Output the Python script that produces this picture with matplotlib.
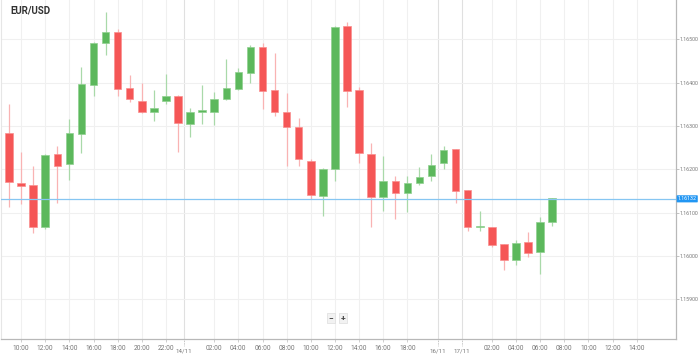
import numpy as np
import matplotlib
matplotlib.use("Agg")
import matplotlib.pyplot as plt
import matplotlib.transforms as mtransforms

plt.rcParams["font.family"] = ["Roboto", "DejaVu Sans"]

# Hourly EUR/USD candles
opens = [1.16283, 1.16169, 1.16164, 1.16068, 1.16235, 1.16212, 1.16282, 1.16394,
         1.16492, 1.16516, 1.16387, 1.16358, 1.16333, 1.16358, 1.16370, 1.16305,
         1.16332, 1.16333, 1.16362, 1.16385, 1.16422, 1.16482, 1.16383, 1.16332,
         1.16298, 1.16219, 1.16139, 1.16200, 1.16531, 1.16383, 1.16235, 1.16136,
         1.16174, 1.16146, 1.16168, 1.16185, 1.16215, 1.16247, 1.16152, 1.16067,
         1.16066, 1.16027, 1.15991, 1.16032, 1.16009, 1.16079]
closes = [1.16170, 1.16162, 1.16068, 1.16233, 1.16208, 1.16283, 1.16396, 1.16492,
          1.16516, 1.16386, 1.16362, 1.16333, 1.16341, 1.16370, 1.16306, 1.16333,
          1.16337, 1.16362, 1.16387, 1.16424, 1.16483, 1.16381, 1.16332, 1.16298,
          1.16225, 1.16141, 1.16200, 1.16529, 1.16381, 1.16237, 1.16136, 1.16172,
          1.16145, 1.16169, 1.16183, 1.16210, 1.16245, 1.16151, 1.16068, 1.16069,
          1.16026, 1.15991, 1.16031, 1.16008, 1.16079, 1.16133]
highs = [1.16351, 1.16239, 1.16208, 1.16235, 1.16255, 1.16316, 1.16435, 1.16493,
         1.16563, 1.16523, 1.16418, 1.16399, 1.16383, 1.16420, 1.16371, 1.16342,
         1.16395, 1.16379, 1.16454, 1.16434, 1.16488, 1.16491, 1.16469, 1.16375,
         1.16318, 1.16223, 1.16202, 1.16530, 1.16541, 1.16389, 1.16260, 1.16231,
         1.16185, 1.16185, 1.16205, 1.16235, 1.16254, 1.16248, 1.16153, 1.16105,
         1.16067, 1.16028, 1.16038, 1.16056, 1.16090, 1.16135]
lows = [1.16112, 1.16119, 1.16052, 1.16062, 1.16123, 1.16175, 1.16237, 1.16370,
        1.16464, 1.16370, 1.16356, 1.16331, 1.16312, 1.16351, 1.16239, 1.16275,
        1.16305, 1.16302, 1.16361, 1.16384, 1.16399, 1.16339, 1.16323, 1.16208,
        1.16208, 1.16132, 1.16093, 1.16173, 1.16343, 1.16214, 1.16068, 1.16105,
        1.16085, 1.16102, 1.16164, 1.16173, 1.16200, 1.16122, 1.16058, 1.16058,
        1.16020, 1.15968, 1.15980, 1.15997, 1.15958, 1.16070]
current_price = 1.16132

# x axis labels (candle slot -> label)
time_slots = [1, 3, 5, 7, 9, 11, 13, 17, 19, 21, 23, 25, 27, 29, 31, 33,
              40, 42, 44, 46, 48, 50, 52]
time_labels = ["10:00", "12:00", "14:00", "16:00", "18:00", "20:00", "22:00",
               "02:00", "04:00", "06:00", "08:00", "10:00", "12:00", "14:00",
               "16:00", "18:00", "02:00", "04:00", "06:00", "08:00", "10:00",
               "12:00", "14:00"]
date_slots = [14.5, 35.5, 37.5]
date_labels = ["14/11", "16/11", "17/11"]
price_ticks = [1.159, 1.160, 1.161, 1.162, 1.163, 1.164, 1.165]

green = "#5cb85c"
red = "#f55656"
green_wick = "#a9d9a9"
red_wick = "#f9b3b3"

fig = plt.figure(figsize=(6.99, 3.57), dpi=100)
ax = fig.add_axes([1 / 699, 18 / 357, 674.7 / 699, 339 / 357])

x = np.arange(len(opens))
o = np.array(opens)
c = np.array(closes)
up = c >= o
body_lo = np.minimum(o, c)
body_h = np.maximum(np.abs(c - o), 0.000015)

ax.vlines(x[up], np.array(lows)[up], np.array(highs)[up], color=green_wick, lw=0.9, zorder=2)
ax.vlines(x[~up], np.array(lows)[~up], np.array(highs)[~up], color=red_wick, lw=0.9, zorder=2)
ax.bar(x[up], body_h[up], bottom=body_lo[up], width=0.62, color=green,
       edgecolor="#8fd08f", linewidth=0.5, zorder=3)
ax.bar(x[~up], body_h[~up], bottom=body_lo[~up], width=0.62, color=red,
       edgecolor="#f98f8f", linewidth=0.5, zorder=3)

ax.set_xlim(-0.663, 55.23)
ax.set_ylim(1.158086, 1.165907)

# grid
for s in time_slots:
    ax.axvline(s, color="#f0f0f0", lw=0.8, zorder=0)
for s in date_slots:
    ax.axvline(s, color="#e0e0e0", lw=0.8, zorder=0)
for p in price_ticks:
    ax.axhline(p, color="#f0f0f0", lw=0.8, zorder=0)

# current price line
ax.axhline(current_price, color="#86c6f2", lw=0.9, zorder=4)

ax.spines["top"].set_visible(False)
ax.spines["left"].set_color("#e6e6e6")
ax.spines["left"].set_linewidth(0.8)
ax.spines["bottom"].set_color("#b8b8b8")
ax.spines["right"].set_color("#b8b8b8")
ax.spines["bottom"].set_linewidth(0.9)
ax.spines["right"].set_linewidth(0.9)

ax.yaxis.tick_right()
ax.set_yticks(price_ticks)
ax.set_yticklabels([f"{p:.5f}" for p in price_ticks])
ax.tick_params(axis="y", length=2, width=0.6, color="#b8b8b8", pad=1,
               labelsize=3.8, labelcolor="#777777")
ax.set_xticks(time_slots)
ax.set_xticklabels(time_labels)
ax.tick_params(axis="x", length=2.5, width=0.6, color="#c8c8c8", pad=1.5,
               labelsize=4.8, labelcolor="#777777")

# date separators below axis
trans = mtransforms.blended_transform_factory(ax.transData, ax.transAxes)
for s, lab in zip(date_slots, date_labels):
    ax.plot([s, s], [0, -0.02], transform=trans, color="#b0b0b0", lw=0.6,
            ls=(0, (1, 1)), clip_on=False)
    ax.text(s, -0.034, lab, transform=trans, ha="center", va="center",
            fontsize=4.5, color="#777777")

# current price tag
ax.text(1.003, current_price, f"{current_price:.5f}",
        transform=mtransforms.blended_transform_factory(ax.transAxes, ax.transData),
        ha="left", va="center", fontsize=3.8, color="white",
        bbox=dict(boxstyle="round,pad=0.2,rounding_size=0.12", fc="#2196f3", ec="none"))

# title
fig.text(10 / 699, 1 - 11 / 357, "EUR/USD", fontsize=7, fontweight="bold",
         color="#333333", ha="left", va="center")

# zoom buttons
for xp, s in [(331, "\u2212"), (343, "+")]:
    fig.text(xp / 699, 1 - 318 / 357, s, fontsize=6, fontweight="bold", color="#444444",
             ha="center", va="center",
             bbox=dict(boxstyle="square,pad=0.2", fc="#f2f2f2", ec="#dddddd", lw=0.5))

fig.savefig("out.png", dpi=100)
